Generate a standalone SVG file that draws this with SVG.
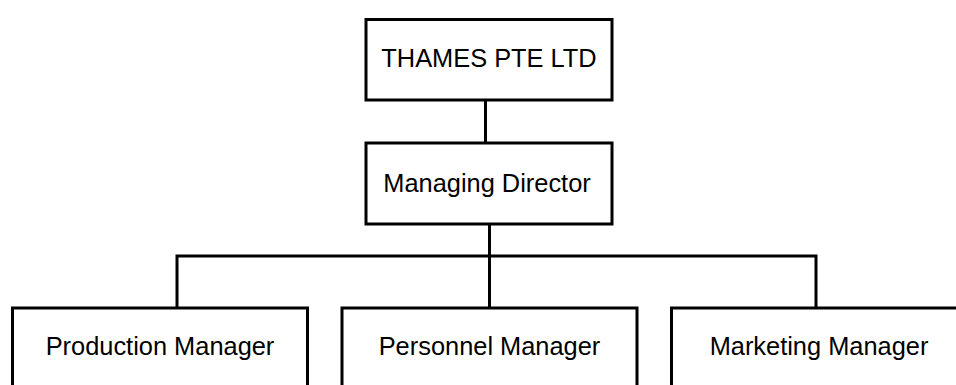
<svg xmlns="http://www.w3.org/2000/svg" width="956" height="385" viewBox="0 0 956 385">
  <style>
    .box { fill: #ffffff; stroke: #000000; stroke-width: 3; }
    .link { fill: none; stroke: #000000; stroke-width: 3; }
    .label { font-family: "Liberation Sans", Arial, sans-serif; font-size: 25.4px; fill: #000000; text-anchor: middle; }
  </style>
  <rect width="956" height="385" fill="#ffffff"/>

  <g id="connectors">
    <line class="link" x1="485.5" y1="100" x2="485.5" y2="143"/>
    <line class="link" x1="489.5" y1="224" x2="489.5" y2="308"/>
    <polyline class="link" points="177,308 177,256 816,256 816,308"/>
  </g>

  <g id="company">
    <rect class="box" x="366" y="19.5" width="246" height="80.5"/>
    <text class="label" x="489" y="67">THAMES PTE LTD</text>
  </g>

  <g id="managing-director">
    <rect class="box" x="366" y="143" width="246" height="81"/>
    <text class="label" x="487" y="192">Managing Director</text>
  </g>

  <g id="production-manager">
    <rect class="box" x="12.5" y="308" width="295" height="90"/>
    <text class="label" x="160" y="355">Production Manager</text>
  </g>

  <g id="personnel-manager">
    <rect class="box" x="342" y="308" width="295" height="90"/>
    <text class="label" x="489.5" y="355">Personnel Manager</text>
  </g>

  <g id="marketing-manager">
    <rect class="box" x="671.5" y="308" width="295" height="90"/>
    <text class="label" x="819" y="355">Marketing Manager</text>
  </g>
</svg>
